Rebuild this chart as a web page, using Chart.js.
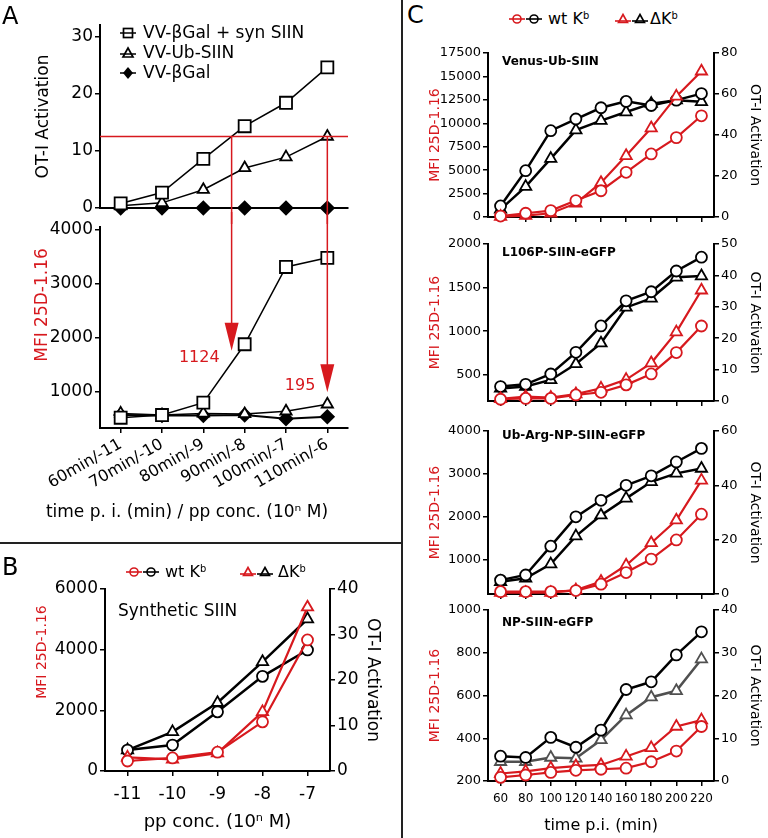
<!DOCTYPE html>
<html>
<head>
<meta charset="utf-8">
<title>OT-I activation and MFI 25D-1.16</title>
<script src="https://cdn.jsdelivr.net/npm/chart.js@4.4.1/dist/chart.umd.min.js"></script>
<style>
  html, body { margin: 0; padding: 0; background: #fff; }
  body { width: 768px; height: 838px; position: relative; overflow: hidden;
         font-family: "DejaVu Sans", sans-serif; color: #000; }
  canvas { position: absolute; }
  .lbl { position: absolute; line-height: 1; white-space: nowrap; }
  .panel { font-size: 24px; }
  .sep { position: absolute; background: #222; }
  .mk { position: absolute; }
  sup { font-size: 0.62em; vertical-align: 0.5em; line-height: 0; }
</style>
</head>
<body>

<canvas id="aTop" width="400" height="224" style="left:0;top:0"></canvas>
<canvas id="aBottom" width="400" height="328" style="left:0;top:212px"></canvas>
<canvas id="bChart" width="400" height="293" style="left:0;top:545px"></canvas>
<canvas id="c1" width="368" height="200" style="left:400px;top:30px"></canvas>
<canvas id="c2" width="368" height="185" style="left:400px;top:230px"></canvas>
<canvas id="c3" width="368" height="195" style="left:400px;top:415px"></canvas>
<canvas id="c4" width="368" height="240" style="left:400px;top:598px"></canvas>

<div class="sep" style="left:0;top:542px;width:402px;height:2px"></div>
<div class="sep" style="left:401px;top:0;width:2px;height:838px"></div>

<div class="lbl panel" style="left:2px;top:4px">A</div>
<div class="lbl panel" style="left:2px;top:555px">B</div>
<div class="lbl panel" style="left:407px;top:3px">C</div>

<!-- legend A -->
<svg class="mk" style="left:119px;top:25px" width="18" height="16"><line x1="1" y1="8" x2="17" y2="8" stroke="#000" stroke-width="1.5"/><rect x="4.5" y="3.5" width="9" height="9" fill="none" stroke="#000" stroke-width="1.7"/></svg>
<div class="lbl" style="left:143px;top:24px;font-size:17px">VV-βGal + syn SIIN</div>
<svg class="mk" style="left:119px;top:45px" width="18" height="16"><line x1="1" y1="9" x2="17" y2="9" stroke="#000" stroke-width="1.5"/><polygon points="9,3 14,12 4,12" fill="none" stroke="#000" stroke-width="1.7"/></svg>
<div class="lbl" style="left:143px;top:44px;font-size:17px">VV-Ub-SIIN</div>
<svg class="mk" style="left:119px;top:65px" width="18" height="16"><line x1="1" y1="8" x2="17" y2="8" stroke="#000" stroke-width="1.5"/><polygon points="9,2 14,8 9,14 4,8" fill="#000"/></svg>
<div class="lbl" style="left:143px;top:64px;font-size:17px">VV-βGal</div>

<!-- legend B -->
<svg class="mk" style="left:126px;top:565px" width="34" height="14"><line x1="0" y1="7" x2="16" y2="7" stroke="#d7191e" stroke-width="1.6"/><circle cx="8" cy="7" r="4" fill="none" stroke="#d7191e" stroke-width="1.6"/><line x1="17" y1="7" x2="33" y2="7" stroke="#000" stroke-width="1.6"/><circle cx="25" cy="7" r="4" fill="none" stroke="#000" stroke-width="1.6"/></svg>
<div class="lbl" style="left:165px;top:564px;font-size:16px">wt K<sup>b</sup></div>
<svg class="mk" style="left:240px;top:565px" width="34" height="14"><line x1="0" y1="9" x2="16" y2="9" stroke="#d7191e" stroke-width="1.6"/><polygon points="8,2.5 12.5,10.5 3.5,10.5" fill="none" stroke="#d7191e" stroke-width="1.6"/><line x1="17" y1="9" x2="33" y2="9" stroke="#000" stroke-width="1.6"/><polygon points="25,2.5 29.5,10.5 20.5,10.5" fill="none" stroke="#000" stroke-width="1.6"/></svg>
<div class="lbl" style="left:278px;top:564px;font-size:16px">ΔK<sup>b</sup></div>

<!-- legend C -->
<svg class="mk" style="left:509px;top:12px" width="34" height="14"><line x1="0" y1="7" x2="16" y2="7" stroke="#d7191e" stroke-width="1.6"/><circle cx="8" cy="7" r="4" fill="none" stroke="#d7191e" stroke-width="1.6"/><line x1="17" y1="7" x2="33" y2="7" stroke="#000" stroke-width="1.6"/><circle cx="25" cy="7" r="4" fill="none" stroke="#000" stroke-width="1.6"/></svg>
<div class="lbl" style="left:548px;top:11px;font-size:16px">wt K<sup>b</sup></div>
<svg class="mk" style="left:615px;top:12px" width="34" height="14"><line x1="0" y1="9" x2="16" y2="9" stroke="#d7191e" stroke-width="1.6"/><polygon points="8,2.5 12.5,10.5 3.5,10.5" fill="none" stroke="#d7191e" stroke-width="1.6"/><line x1="17" y1="9" x2="33" y2="9" stroke="#000" stroke-width="1.6"/><polygon points="25,2.5 29.5,10.5 20.5,10.5" fill="none" stroke="#000" stroke-width="1.6"/></svg>
<div class="lbl" style="left:650px;top:11px;font-size:16px">ΔK<sup>b</sup></div>

<script>
// ===== data: panel A =====
const timeConcLabels = ["60min/-11", "70min/-10", "80min/-9", "90min/-8", "100min/-7", "110min/-6"];
const otiSynSiin = [0.8, 2.7, 8.6, 14.3, 18.4, 24.6];   // VV-βGal + syn SIIN
const otiUbSiin  = [0.4, 0.9, 3.2, 7.0, 8.9, 12.5];     // VV-Ub-SIIN
const otiBGal    = [0, 0, 0, 0, 0, 0];                   // VV-βGal
const mfiSynSiin = [520, 570, 800, 1880, 3310, 3480];
const mfiUbSiin  = [600, 570, 600, 590, 640, 770];
const mfiBGal    = [570, 560, 560, 570, 500, 540];
const otiThreshold = 12.5;
const arrowTipsMfi = [1760, 990];
const arrowLabels = ["1124", "195"];

// ===== data: panel B =====
const concLabels = ["-11", "-10", "-9", "-8", "-7"];
const bMfiWt    = [330, 430, 620, 1620, 4320];
const bMfiDelta = [450, 380, 590, 1950, 5400];
const bOtiWt    = [4.6, 5.7, 13.0, 20.8, 26.6];
const bOtiDelta = [4.6, 8.6, 15.0, 24.0, 33.4];

// ===== data: panel C =====
const timeLabels = ["60", "80", "100", "120", "140", "160", "180", "200", "220"];

const venusMfiWt    = [100, 400, 680, 1750, 2800, 4770, 6730, 8470, 10800];
const venusMfiDelta = [50, 150, 400, 1450, 3660, 6530, 9490, 12870, 15550];
const venusOtiWt    = [5.4, 22.6, 42.1, 47.8, 53.3, 56.4, 54.4, 57.0, 60.2];
const venusOtiDelta = [3.7, 14.8, 28.5, 42.4, 47.0, 51.2, 55.3, 57.0, 56.2];

const l106MfiWt    = [220, 230, 230, 270, 300, 385, 510, 755, 1060];
const l106MfiDelta = [225, 250, 240, 280, 345, 445, 635, 990, 1470];
const l106OtiWt    = [4.6, 5.3, 8.6, 15.5, 23.9, 31.9, 34.8, 41.4, 45.8];
const l106OtiDelta = [4.0, 4.6, 6.7, 11.8, 18.4, 29.8, 32.7, 39.4, 39.8];

const ubArgMfiWt    = [255, 255, 255, 280, 430, 700, 1015, 1460, 2060];
const ubArgMfiDelta = [230, 230, 230, 290, 490, 870, 1390, 1920, 2850];
const ubArgOtiWt    = [5.1, 7.0, 17.6, 28.4, 34.5, 40.0, 43.5, 48.6, 53.6];
const ubArgOtiDelta = [4.5, 5.8, 11.0, 21.3, 29.0, 35.2, 41.3, 44.4, 46.2];

const npMfiWt    = [217, 228, 240, 250, 255, 260, 290, 340, 455];
const npMfiDelta = [235, 245, 260, 270, 275, 315, 355, 455, 485];
const npOtiWt    = [5.8, 5.5, 10.2, 7.9, 11.9, 21.4, 23.2, 29.5, 34.9];
const npOtiDelta = [4.5, 4.5, 5.5, 5.3, 9.6, 15.4, 19.6, 21.1, 28.5];

// ===== shared style =====
const RED = "#d7191e";
const FAM = '"DejaVu Sans", sans-serif';
Chart.defaults.font.family = FAM;
Chart.defaults.color = "#000";

// free text drawn on a chart (x/y relative to chart area when rel is set)
const texts = {
  id: "texts",
  afterDraw(chart, args, opts) {
    const {ctx, chartArea: a} = chart;
    (opts.items || []).forEach(t => {
      ctx.save();
      ctx.translate(t.rel ? a.left + t.x : t.x, t.rel ? a.top + t.y : t.y);
      ctx.rotate(t.rot || 0);
      ctx.font = t.font;
      ctx.fillStyle = t.color || "#000";
      ctx.textAlign = t.align || "center";
      ctx.textBaseline = "middle";
      ctx.fillText(t.text, 0, 0);
      ctx.restore();
    });
  }
};
Chart.register(texts);

function series(data, axis, color, style, r, lw, fill) {
  return {
    data, yAxisID: axis,
    borderColor: color, borderWidth: lw,
    pointStyle: style, pointRadius: r,
    pointBorderColor: color, pointBackgroundColor: fill || "#fff", pointBorderWidth: 1.8,
    fill: false, clip: false, tension: 0
  };
}

function yAxis(pos, o) {
  return {
    position: pos, min: o.min, max: o.max,
    ticks: {font: {size: o.tick}, padding: 2, color: "#000", callback: v => String(v)},
    grid: {drawOnChartArea: false, tickLength: 5, color: "#000", lineWidth: 1.5},
    border: {color: "#000", width: 2},
    title: o.title
      ? {display: true, text: o.title, color: o.titleColor || "#000", font: {size: o.titleSize}, padding: {top: o.titlePad, bottom: 0}}
      : {display: false},
    // ticks on multiples of the step only, without the axis ends
    afterBuildTicks: s => {
      const t = [];
      for (let v = Math.ceil(o.min / o.step) * o.step; v <= o.max; v += o.step) t.push({value: v});
      s.ticks = t;
    },
    afterFit: s => { s.width = o.width; }
  };
}

function xAxis(o) {
  return {
    type: "category", offset: true,
    ticks: {display: !!o.tick, font: {size: o.tick || 12}, padding: o.pad || 2, autoSkip: false,
            minRotation: o.rot || 0, maxRotation: o.rot || 0, color: "#000"},
    grid: {display: o.marks !== false, drawOnChartArea: false, tickLength: 5, color: "#000", lineWidth: 1.5},
    border: {color: "#000", width: 2},
    title: o.title
      ? {display: true, text: o.title, font: {size: o.titleSize}, padding: {top: 0, bottom: o.titlePad}}
      : {display: false},
    afterFit: s => { s.height = o.height; }
  };
}

function opts(padding, scales, items) {
  return {
    responsive: false, animation: false, devicePixelRatio: 1,
    layout: {padding},
    scales,
    plugins: {legend: {display: false}, tooltip: {enabled: false}, texts: {items: items || []}}
  };
}

// x pixel where a series first reaches the threshold
function crossX(xs, s, thr) {
  for (let i = 0; i < s.length - 1; i++) {
    if (s[i] < thr && s[i + 1] >= thr) {
      const f = (thr - s[i]) / (s[i + 1] - s[i]);
      const a = xs.getPixelForValue(i), b = xs.getPixelForValue(i + 1);
      return a + f * (b - a);
    }
  }
  return xs.getPixelForValue(s.length - 1);
}

// ===== panel A: red guide lines =====
const thresholdTop = {
  id: "thresholdTop",
  afterDatasetsDraw(chart) {
    const {ctx, chartArea: a, scales: {x, y}} = chart;
    const py = y.getPixelForValue(otiThreshold);
    ctx.save();
    ctx.strokeStyle = RED;
    ctx.lineWidth = 1.5;
    ctx.beginPath();
    ctx.moveTo(a.left, py);
    ctx.lineTo(a.right, py);
    [otiSynSiin, otiUbSiin].forEach(s => {
      const px = crossX(x, s, otiThreshold);
      ctx.moveTo(px, py);
      ctx.lineTo(px, chart.height);
    });
    ctx.stroke();
    ctx.restore();
  }
};

const arrowsBottom = {
  id: "arrowsBottom",
  afterDatasetsDraw(chart) {
    const {ctx, scales: {x, y}} = chart;
    const labelDy = [7, -6];
    ctx.save();
    ctx.strokeStyle = RED;
    ctx.fillStyle = RED;
    ctx.lineWidth = 1.5;
    [otiSynSiin, otiUbSiin].forEach((s, i) => {
      const px = crossX(x, s, otiThreshold);
      const tip = y.getPixelForValue(arrowTipsMfi[i]);
      ctx.beginPath();
      ctx.moveTo(px, 0);
      ctx.lineTo(px, tip - 26);
      ctx.stroke();
      ctx.beginPath();
      ctx.moveTo(px - 7, tip - 28);
      ctx.lineTo(px + 7, tip - 28);
      ctx.lineTo(px, tip);
      ctx.closePath();
      ctx.fill();
      ctx.font = "16px " + FAM;
      ctx.textAlign = "right";
      ctx.textBaseline = "middle";
      ctx.fillText(arrowLabels[i], px - 12, tip + labelDy[i]);
    });
    ctx.restore();
  }
};

new Chart(document.getElementById("aTop"), {
  type: "line",
  data: {labels: timeConcLabels, datasets: [
    series(otiSynSiin, "y", "#000", "rect", 8.5, 1.5),
    series(otiUbSiin, "y", "#000", "triangle", 6.5, 1.5),
    series(otiBGal, "y", "#000", "rectRot", 6.5, 2, "#000")
  ]},
  options: opts({top: 25, right: 52, left: 0, bottom: 0}, {
    x: xAxis({marks: false, height: 16}),
    y: yAxis("left", {min: 0, max: 32, step: 10, tick: 17, width: 100,
                      title: "OT-I Activation", titleSize: 17, titlePad: 33})
  }),
  plugins: [thresholdTop]
});

new Chart(document.getElementById("aBottom"), {
  type: "line",
  data: {labels: timeConcLabels, datasets: [
    series(mfiSynSiin, "y", "#000", "rect", 8.5, 1.5),
    series(mfiUbSiin, "y", "#000", "triangle", 6.5, 1.5),
    series(mfiBGal, "y", "#000", "rectRot", 6.5, 2, "#000")
  ]},
  options: opts({top: 15, right: 52, left: 0, bottom: 0}, {
    x: xAxis({tick: 16, rot: 30, pad: 2, height: 112}),
    y: yAxis("left", {min: 330, max: 4050, step: 1000, tick: 17, width: 100})
  }, [
    {text: "MFI 25D-1.16", x: 43, y: 93, rot: -Math.PI / 2, color: RED, font: "17px " + FAM},
    {text: "time p. i. (min) / pp conc. (10ⁿ M)", x: 187, y: 301, font: "17px " + FAM}
  ]),
  plugins: [arrowsBottom]
});

// ===== panel B =====
new Chart(document.getElementById("bChart"), {
  type: "line",
  data: {labels: concLabels, datasets: [
    series(bMfiWt, "y", RED, "circle", 5.5, 2.2),
    series(bMfiDelta, "y", RED, "triangle", 6.5, 2.2),
    series(bOtiWt, "y1", "#000", "circle", 5.5, 2.5),
    series(bOtiDelta, "y1", "#000", "triangle", 6.5, 2.5)
  ]},
  options: opts({top: 44, right: 0, left: 0, bottom: 0}, {
    x: xAxis({tick: 17, pad: 8, height: 67, title: "pp conc. (10ⁿ M)", titleSize: 18, titlePad: 5}),
    y: yAxis("left", {min: 0, max: 6000, step: 2000, tick: 17, width: 105}),
    y1: yAxis("right", {min: 0, max: 40, step: 10, tick: 17, width: 70,
                        title: "OT-I Activation", titleSize: 17, titlePad: 17})
  }, [
    {text: "MFI 25D-1.16", x: 42, y: 107, rot: -Math.PI / 2, color: RED, font: "14px " + FAM},
    {text: "Synthetic SIIN", rel: true, x: 13, y: 23, align: "left", font: "17px " + FAM}
  ])
});

// ===== panel C =====
function cPanel(id, d) {
  return new Chart(document.getElementById(id), {
    type: "line",
    data: {labels: timeLabels, datasets: [
      series(d.mfiWt, "y", RED, "circle", 5.5, 2.2),
      series(d.mfiDelta, "y", RED, "triangle", 6.5, 2.2),
      series(d.otiWt, "y1", "#000", "circle", 5.5, 2.5),
      series(d.otiDelta, "y1", d.deltaColor || "#000", "triangle", 6.5, 2.5)
    ]},
    options: opts({top: d.padTop, right: 0, left: 0, bottom: 0}, {
      x: d.last
        ? xAxis({tick: 12, pad: 6, height: d.xHeight, title: "time p.i. (min)", titleSize: 16, titlePad: 3})
        : xAxis({height: d.xHeight}),
      y: yAxis("left", {min: d.left[0], max: d.left[1], step: d.left[2], tick: 13, width: 88,
                        title: "MFI 25D-1.16", titleColor: RED, titleSize: 14, titlePad: 27}),
      y1: yAxis("right", {min: 0, max: d.right[0], step: d.right[1], tick: 13, width: 54,
                          title: "OT-I Activation", titleSize: 14, titlePad: 5})
    }, [
      {text: d.title, rel: true, x: 14, y: d.titleDy, align: "left", font: "bold 12px " + FAM}
    ])
  });
}

cPanel("c1", {title: "Venus-Ub-SIIN", mfiWt: venusMfiWt, mfiDelta: venusMfiDelta,
  otiWt: venusOtiWt, otiDelta: venusOtiDelta, left: [0, 17500, 2500], right: [80, 20],
  padTop: 23, xHeight: 13, titleDy: 9});
cPanel("c2", {title: "L106P-SIIN-eGFP", mfiWt: l106MfiWt, mfiDelta: l106MfiDelta,
  otiWt: l106OtiWt, otiDelta: l106OtiDelta, left: [200, 2000, 500], right: [50, 10],
  padTop: 14, xHeight: 14, titleDy: 9});
cPanel("c3", {title: "Ub-Arg-NP-SIIN-eGFP", mfiWt: ubArgMfiWt, mfiDelta: ubArgMfiDelta,
  otiWt: ubArgOtiWt, otiDelta: ubArgOtiDelta, left: [200, 4000, 1000], right: [60, 20],
  padTop: 16, xHeight: 16, titleDy: 5});
cPanel("c4", {title: "NP-SIIN-eGFP", mfiWt: npMfiWt, mfiDelta: npMfiDelta,
  otiWt: npOtiWt, otiDelta: npOtiDelta, left: [200, 1000, 200], right: [40, 10],
  padTop: 12, xHeight: 57, titleDy: 13, last: true, deltaColor: "#505050"});
</script>
</body>
</html>
